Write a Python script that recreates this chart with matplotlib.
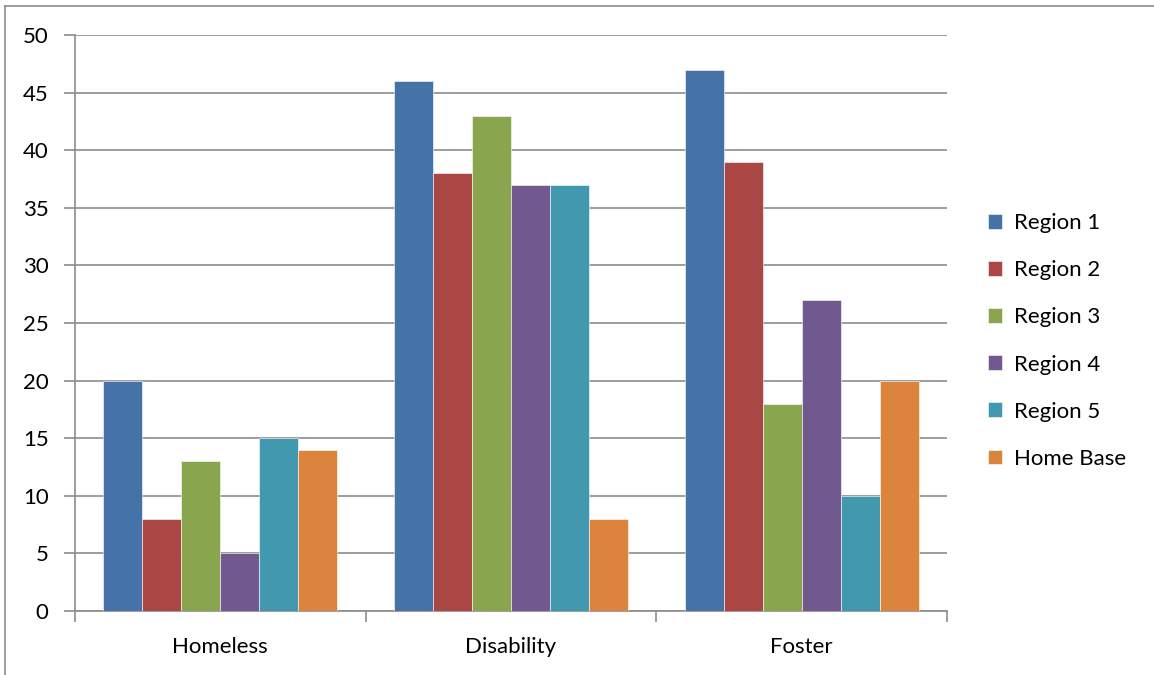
import numpy as np
import matplotlib
matplotlib.use('Agg')
from matplotlib import pyplot as plt
from matplotlib.lines import Line2D

# Chart data
categories = ['Homeless', 'Disability', 'Foster']
series_names = ['Region 1', 'Region 2', 'Region 3', 'Region 4', 'Region 5', 'Home Base']
region1 = [20, 46, 47]
region2 = [8, 38, 39]
region3 = [13, 43, 18]
region4 = [5, 37, 27]
region5 = [15, 37, 10]
home_base = [14, 8, 20]
colors = ['#4572A7', '#AA4643', '#89A54E', '#71588F', '#4198AF', '#DB843D']

plt.rcParams['font.family'] = ['Lato', 'DejaVu Sans']

fig = plt.figure(figsize=(11.54, 6.75), dpi=100)
ax = fig.add_axes([75 / 1154, 1 - 611 / 675, (947 - 75) / 1154, (611 - 35) / 675])

values = [region1, region2, region3, region4, region5, home_base]
x = np.arange(len(categories))
bar_w = 0.134
for i, (name, vals) in enumerate(zip(series_names, values)):
    offs = (i - 2.5) * bar_w
    ax.bar(x + offs, vals, width=bar_w, color=colors[i], label=name,
           edgecolor='white', linewidth=0.4, zorder=3)

ax.set_xlim(-0.5, 2.5)
ax.set_ylim(0, 50)
ax.set_yticks(range(0, 51, 5))
ax.yaxis.grid(True, color='#8c8c8c', linewidth=1.2, zorder=0)

# category labels between boundary ticks
ax.set_xticks([-0.5, 0.5, 1.5, 2.5])
ax.set_xticklabels([])
ax.set_xticks(x, minor=True)
ax.set_xticklabels(categories, minor=True)
ax.tick_params(axis='x', which='minor', length=0, pad=19, labelsize=16)
ax.tick_params(axis='x', which='major', length=8, width=1.2, color='#8c8c8c')
ax.tick_params(axis='y', length=8, width=1.2, color='#8c8c8c', pad=11, labelsize=16)

for side in ['top', 'right']:
    ax.spines[side].set_visible(False)
for side in ['left', 'bottom']:
    ax.spines[side].set_color('#8c8c8c')
    ax.spines[side].set_linewidth(1.2)

ax.legend(loc='center left', bbox_to_anchor=(988 / 1154, 1 - 341 / 675),
          bbox_transform=fig.transFigure, frameon=False, fontsize=16,
          handlelength=0.65, handleheight=0.65, handletextpad=0.5,
          labelspacing=1.22, borderaxespad=0, borderpad=0)

# outer frame lines (top and left)
fig.add_artist(Line2D([5 / 1154, 1], [1 - 6 / 675, 1 - 6 / 675], color='#8c8c8c',
                      linewidth=1.2, transform=fig.transFigure))
fig.add_artist(Line2D([5 / 1154, 5 / 1154], [0, 1 - 6 / 675], color='#8c8c8c',
                      linewidth=1.2, transform=fig.transFigure))

plt.savefig('out.png', dpi=100)
